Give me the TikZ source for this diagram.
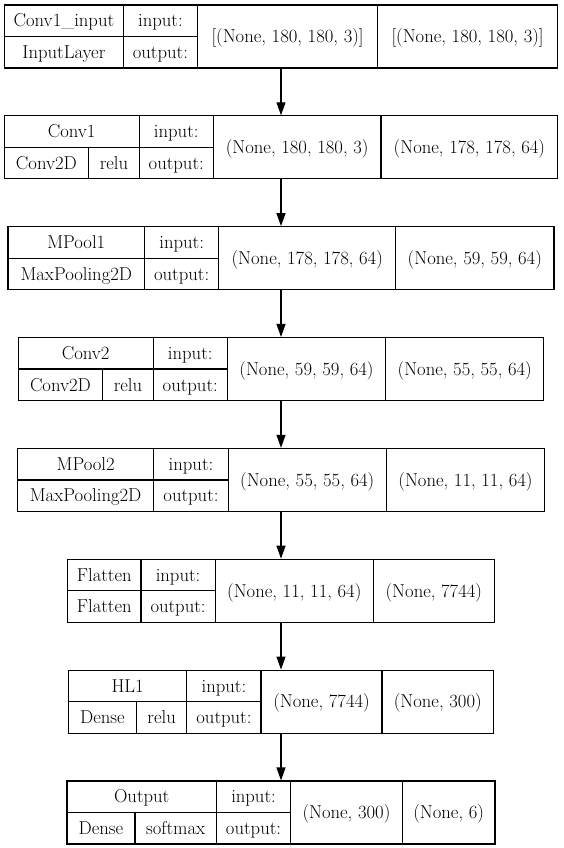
\documentclass[tikz,border=0pt]{standalone}
\usetikzlibrary{arrows.meta}
\def\kcx{281}
\def\kH{63}
\newcommand\kfont{\rmfamily\fontsize{18.67}{22}\selectfont}
\newcommand\kwidths[6]{%
  \expandafter\def\csname k#1@n\endcsname{#2}%
  \expandafter\def\csname k#1@c\endcsname{#3}%
  \expandafter\def\csname k#1@a\endcsname{#4}%
  \expandafter\def\csname k#1@i\endcsname{#5}%
  \expandafter\def\csname k#1@o\endcsname{#6}%
  \expandafter\def\csname k#1@io\endcsname{74.25}}
\kwidths{b1}{118.85}{104.29}{0}{180.0}{180.0}
\kwidths{b2}{71.13}{84.61}{50.37}{167.56}{176.9}
\kwidths{b3}{81.51}{136.48}{0}{176.9}{158.23}
\kwidths{b4}{71.13}{84.61}{50.37}{158.23}{158.23}
\kwidths{b5}{81.51}{136.48}{0}{158.23}{158.23}
\kwidths{b6}{73.21}{73.21}{0}{158.23}{120.89}
\kwidths{b7}{55.56}{68.0}{50.37}{120.89}{111.55}
\kwidths{b8}{73.21}{68.0}{81.49}{111.55}{92.88}
\tikzset{
  blockbox/.style={draw=black, line width=1.2pt, inner sep=0pt, minimum height=\kH pt},
  cellline/.style={draw=black, line width=1.2pt},
  lbl/.style={anchor=base, inner sep=0pt, text=black, font=\kfont},
  arr/.style={draw=black, line width=1.2pt, -{Triangle[length=13pt,width=9pt]}}
}
\newcommand\kblock[7]{%
  \pgfmathsetmacro\ktop{#2}%
  \edef\kwn{\csname k#1@n\endcsname}\edef\kwc{\csname k#1@c\endcsname}\edef\kwa{\csname k#1@a\endcsname}%
  \edef\kwi{\csname k#1@i\endcsname}\edef\kwo{\csname k#1@o\endcsname}\edef\kwio{\csname k#1@io\endcsname}%
  \ifx&#5&\pgfmathsetmacro\kwl{max(\kwn,\kwc)}\else\pgfmathsetmacro\kwl{max(\kwn,\kwc+\kwa)}\fi
  \pgfmathsetmacro\kwt{\kwl+\kwio+\kwi+\kwo}%
  \pgfmathsetmacro\kxa{\kcx-\kwt/2}%
  \pgfmathsetmacro\kxb{\kxa+\kwl}%
  \pgfmathsetmacro\kxc{\kxb+\kwio}%
  \pgfmathsetmacro\kxd{\kxc+\kwi}%
  \pgfmathsetmacro\kxe{\kxd+\kwo}%
  \pgfmathsetmacro\kym{\ktop+\kH/2}%
  \pgfmathsetmacro\kyb{\ktop+\kH}%
  \pgfmathsetmacro\kyu{\ktop+\kH/4+6.2}%
  \pgfmathsetmacro\kyl{\ktop+3*\kH/4+6.2}%
  \pgfmathsetmacro\kyf{\ktop+\kH/2+6.2}%
  \node[blockbox, minimum width=\kwt pt] (#1) at (\kcx,\kym) {};
  \draw[cellline] (\kxa,\kym) -- (\kxc,\kym);
  \draw[cellline] (\kxb,\ktop) -- (\kxb,\kyb);
  \draw[cellline] (\kxc,\ktop) -- (\kxc,\kyb);
  \draw[cellline] (\kxd,\ktop) -- (\kxd,\kyb);
  \node[lbl] (#1-name) at ({(\kxa+\kxb)/2},\kyu) {#3};
  \ifx&#5&%
    \node[lbl] (#1-class) at ({(\kxa+\kxb)/2},\kyl) {#4};
  \else
    \pgfmathsetmacro\kxs{\kxa+\kwc}%
    \draw[cellline] (\kxs,\kym) -- (\kxs,\kyb);
    \node[lbl] (#1-class) at ({(\kxa+\kxs)/2},\kyl) {#4};
    \node[lbl] (#1-act) at ({(\kxs+\kxb)/2},\kyl) {#5};
  \fi
  \node[lbl] (#1-inl) at ({(\kxb+\kxc)/2},\kyu) {input:};
  \node[lbl] (#1-outl) at ({(\kxb+\kxc)/2},\kyl) {output:};
  \node[lbl] (#1-ins) at ({(\kxc+\kxd)/2},\kyf) {#6};
  \node[lbl] (#1-outs) at ({(\kxd+\kxe)/2},\kyf) {#7};
}
\begin{document}
\begin{tikzpicture}[x=1pt,y=-1pt]
\useasboundingbox (0,0) rectangle (563,848);
\kblock{b1}{5}{Conv1\_input}{InputLayer}{}{[(None, 180, 180, 3)]}{[(None, 180, 180, 3)]}
\kblock{b2}{115.86}{Conv1}{Conv2D}{relu}{(None, 180, 180, 3)}{(None, 178, 178, 64)}
\kblock{b3}{226.72}{MPool1}{MaxPooling2D}{}{(None, 178, 178, 64)}{(None, 59, 59, 64)}
\kblock{b4}{337.58}{Conv2}{Conv2D}{relu}{(None, 59, 59, 64)}{(None, 55, 55, 64)}
\kblock{b5}{448.44}{MPool2}{MaxPooling2D}{}{(None, 55, 55, 64)}{(None, 11, 11, 64)}
\kblock{b6}{559.3}{Flatten}{Flatten}{}{(None, 11, 11, 64)}{(None, 7744)}
\kblock{b7}{670.16}{HL1}{Dense}{relu}{(None, 7744)}{(None, 300)}
\kblock{b8}{781.02}{Output}{Dense}{softmax}{(None, 300)}{(None, 6)}
\draw[arr] (b1) -- (b2);
\draw[arr] (b2) -- (b3);
\draw[arr] (b3) -- (b4);
\draw[arr] (b4) -- (b5);
\draw[arr] (b5) -- (b6);
\draw[arr] (b6) -- (b7);
\draw[arr] (b7) -- (b8);
\end{tikzpicture}
\end{document}
